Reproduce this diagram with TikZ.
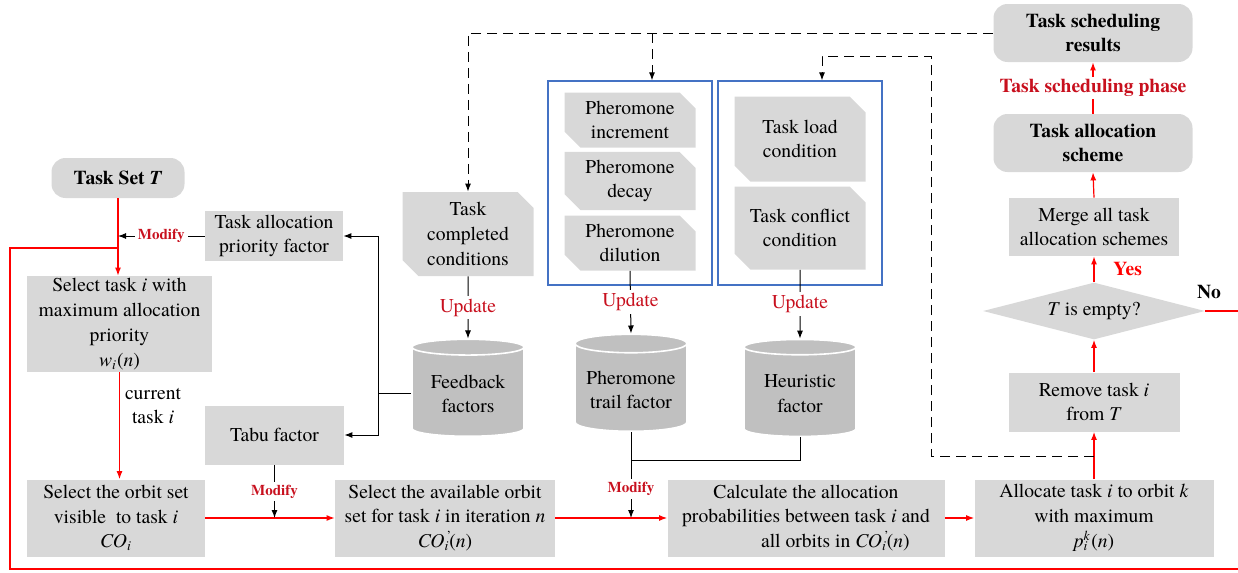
\documentclass[tikz,border=0pt]{standalone}
\usepackage{fontspec}
\setmainfont{texgyretermes}[Extension=.otf, UprightFont=*-regular, BoldFont=*-bold,
  ItalicFont=*-italic, BoldItalicFont=*-bolditalic]
\usetikzlibrary{arrows.meta,shapes.geometric,shapes.misc}
\definecolor{boxgray}{RGB}{216,216,216}
\definecolor{cylgray}{RGB}{192,192,192}
\definecolor{darkred}{RGB}{200,16,30}
\definecolor{frameblue}{RGB}{68,114,196}
\newcommand{\ti}[1]{\textit{#1}}
\newcommand{\COprime}{\ti{CO}\rlap{\textsuperscript{\,'}}\textsubscript{\ti{i}}(\ti{n})}

\begin{document}
\begin{tikzpicture}[x=0.5pt,y=-0.5pt,
  every node/.style={font=\fontsize{9.8}{12.4}\selectfont, align=center},
  greybox/.style={fill=boxgray, inner sep=1pt},
  roundbox/.style={greybox, rounded corners=7pt, font=\fontsize{9.8}{12.2}\selectfont\bfseries},
  snipbox/.style={chamfered rectangle, chamfered rectangle corners={north east,south west},
    chamfered rectangle xsep=5pt, fill=boxgray, inner sep=1pt, minimum width=65.5pt},
  drum/.style={cylinder, shape border rotate=90, aspect=0.18, fill=cylgray, draw=white,
    line width=0.8pt, minimum width=56pt, minimum height=48.5pt},
  frame/.style={draw=frameblue, line width=0.6pt, minimum width=82pt, minimum height=102pt},
  redline/.style={red, line width=0.6pt},
  redarrow/.style={redline, -{Latex[length=4pt,width=3pt]}},
  blkarrow/.style={line width=0.5pt, -{Latex[length=4pt,width=3pt]}},
  dashline/.style={blkarrow, dash pattern=on 5pt off 3pt},
  modlabel/.style={fill=white, text=darkred, font=\fontsize{7.5}{9}\selectfont\bfseries, inner sep=1.5pt},
  updlabel/.style={fill=white, text=darkred, inner sep=1.5pt}
]
\useasboundingbox (0,0) rectangle (1238,573);

% left column
\node[roundbox, minimum width=66.5pt, minimum height=20pt] (taskset) at (118,178) {Task Set \ti{T}};
\node[greybox, minimum width=69pt, minimum height=25pt] (prio) at (274,236) {Task allocation\\priority factor};
\node[greybox, minimum width=92.5pt, minimum height=48pt] (seltask) at (119.5,324)
  {Select task \ti{i} with\\maximum allocation\\priority\\\ti{w}\textsubscript{\ti{i}}(\ti{n})};
\node (curtask) at (153,406) {current\\task \ti{i}};
\node[greybox, minimum width=69.5pt, minimum height=29.5pt] (tabu) at (274.5,435) {Tabu factor};

% bottom row
\node[greybox, minimum width=89pt, minimum height=38.5pt] (visible) at (116,518)
  {Select the orbit set\\visible\ \ to task \ti{i}\\\ti{CO}\textsubscript{\ti{i}}};
\node[greybox, minimum width=110pt, minimum height=38.5pt] (avail) at (445,518)
  {Select the available orbit\\set for task \ti{i} in iteration \ti{n}\\\COprime};
\node[greybox, minimum width=138.5pt, minimum height=38.5pt] (calc) at (806,518)
  {Calculate the allocation\\probabilities between task \ti{i} and\\\hspace*{3em}all orbits in \COprime};
\node[greybox, minimum width=119.5pt, minimum height=38.5pt] (alloc) at (1094,518)
  {Allocate task \ti{i} to orbit \ti{k}\\with maximum\\\ti{p}\rlap{\textsuperscript{\ti{k}}}\textsubscript{\ti{i}}\hspace{0.15em}(\ti{n})};

% right column
\node[greybox, minimum width=85.5pt, minimum height=29.5pt] (remove) at (1094,402) {Remove task \ti{i}\\from \ti{T}};
\node[diamond, fill=boxgray, aspect=3.9, minimum width=111pt, minimum height=28.5pt, inner sep=0pt]
  (empty) at (1094,311) {\ti{T} is empty?};
\node[greybox, minimum width=85pt, minimum height=29pt] (merge) at (1094,227) {Merge all task\\allocation schemes};
\node[roundbox, minimum width=99.5pt, minimum height=29pt] (scheme) at (1093,143) {Task allocation\\scheme};
\node[roundbox, minimum width=99.5pt, minimum height=29pt] (results) at (1093,33) {Task scheduling\\results};
\node[font=\fontsize{9.8}{12.2}\selectfont\bfseries] (nolbl) at (1209,292) {No};

% middle: conditions and factors
\node[snipbox, minimum height=42pt] (taskcond) at (468,234) {Task\\completed\\conditions};
\node[frame] (pherframe) at (630,183) {};
\node[snipbox, minimum height=27.5pt] (incr) at (630,120) {Pheromone\\increment};
\node[snipbox, minimum height=27.5pt] (decay) at (630,181) {Pheromone\\decay};
\node[snipbox, minimum height=27.5pt] (dilut) at (630,243) {Pheromone\\dilution};
\node[frame] (condframe) at (800,183) {};
\node[snipbox, minimum height=42.5pt] (load) at (800,139) {Task load\\condition};
\node[snipbox, minimum height=41.5pt] (conflict) at (800,228) {Task conflict\\condition};
\node[drum] (feedback) at (468,394) {Feedback\\factors};
\node[drum] (trail) at (631,390) {Pheromone\\trail factor};
\node[drum] (heur) at (800,394) {Heuristic\\factor};

% updates
\draw[blkarrow] (taskcond.south) -- node[updlabel] {Update} (feedback.north);
\draw[blkarrow] (dilut.south) -- node[updlabel] {Update} (trail.north);
\draw[blkarrow] (conflict.south) -- node[updlabel] {Update} (heur.north);

% factors feeding back
\draw[line width=0.5pt] (feedback.west) -- ++(-33,0) coordinate (fb);
\draw[blkarrow] (fb) |- (prio.east);
\draw[blkarrow] (fb) |- (tabu.east);
\coordinate (join) at (631,460);
\draw[line width=0.5pt] (trail.south) -- (join);
\draw[line width=0.5pt] (heur.south) |- (join);

% main flow
\draw[redarrow] (taskset.south) -- (taskset.south |- seltask.north);
\draw[blkarrow] (prio.west) -- node[modlabel] {Modify} (prio.west -| taskset.south);
\draw[redarrow] (seltask.south) -- (seltask.south |- visible.north);
\draw[redarrow] (visible.east) -- (avail.west);
\draw[redarrow] (avail.east) -- (calc.west);
\draw[redarrow] (calc.east) -- (alloc.west);
\draw[blkarrow] (tabu.south) -- node[modlabel] {Modify} (tabu.south |- visible.east);
\draw[blkarrow] (join) -- node[modlabel] {Modify} (join |- calc.west);
\draw[redarrow] (alloc.north) -- (remove.south);
\draw[redarrow] (remove.north) -- (empty.south);
\draw[redarrow] (empty.north) -- node[right=6pt, font=\fontsize{9.8}{12.2}\selectfont\bfseries] {Yes} (merge.south);
\draw[redarrow] (merge.north) -- (scheme.south);
\draw[redarrow] (scheme.north) -- node[fill=white, text=darkred, inner sep=1pt,
  font=\fontsize{9.8}{12.2}\selectfont\bfseries] {Task scheduling phase} (results.south);

% loop back when T is not empty
\coordinate (loopin) at (118,248);
\draw[redline] (empty.east) -- ++(35,0) -- ++(0,258) -| (10,248) -- (loopin);

% dashed feedback of results
\coordinate (branch) at (652,33);
\draw[dashline] (results.west) -| (taskcond.north);
\draw[dashline] (branch) -- (branch |- pherframe.north);
\coordinate (dstart) at (1094,456);
\coordinate (dtop) at (931,56);
\draw[dashline] (dstart) -| (dtop) -| ([xshift=11pt]condframe.north);
\end{tikzpicture}
\end{document}
